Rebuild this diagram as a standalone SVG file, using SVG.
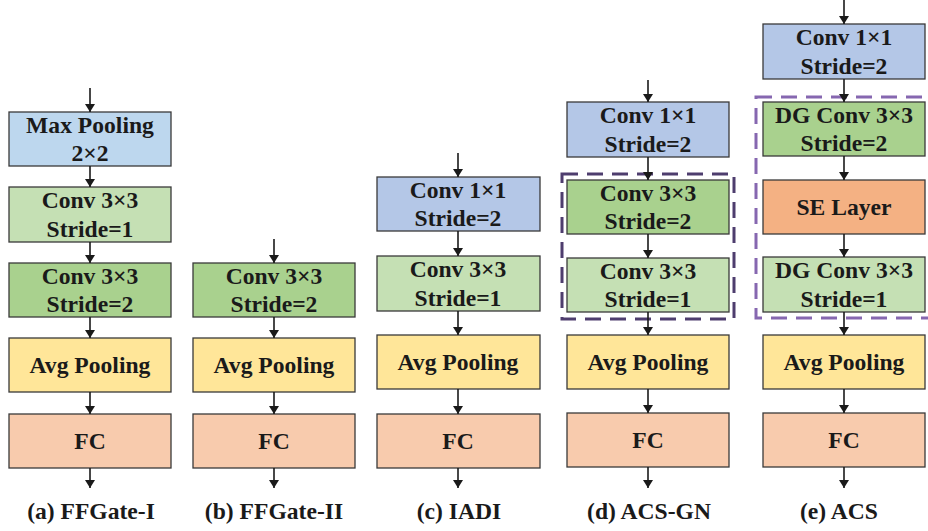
<svg xmlns="http://www.w3.org/2000/svg" width="928" height="531" viewBox="0 0 928 531">
  <defs>
    <!-- arrowhead drawn along +x so orient="auto" turns it to follow the line -->
    <marker id="arrow" markerUnits="userSpaceOnUse" markerWidth="8" markerHeight="10" refX="8" refY="5" orient="auto" viewBox="0 0 8 10">
      <path d="M0,0 L8,5 L0,10 Z" fill="#1a1a1a"/>
    </marker>
    <style>
      .box { stroke: #3a3a3a; stroke-width: 1.3; }
      .lblue { fill: #BDD7EE; }
      .blue { fill: #B4C7E7; }
      .lgreen { fill: #C5E0B4; }
      .dgreen { fill: #A9D18E; }
      .yellow { fill: #FFE699; }
      .fc { fill: #F8CBAD; }
      .se { fill: #F4B183; }
      .link { stroke: #1a1a1a; stroke-width: 1.6; fill: none; marker-end: url(#arrow); }
      .group-d { fill: none; stroke: #4E3D6E; stroke-width: 3; stroke-dasharray: 16 9; }
      .group-e { fill: none; stroke: #8667B0; stroke-width: 3; stroke-dasharray: 16 9; }
    </style>
  </defs>

  <g font-weight="bold" font-size="23.6" fill="#1a1a1a" text-anchor="middle">
  <!-- (a) FFGate-I -->
  <g id="a-maxpool">
    <rect class="box lblue" x="9" y="112" width="162" height="54"/>
    <text font-family="Liberation Serif" x="90" y="133">Max Pooling</text>
    <text font-family="Liberation Serif" x="90" y="161">2×2</text>
  </g>
  <g id="a-conv1">
    <rect class="box lgreen" x="9" y="187" width="162" height="55"/>
    <text font-family="Liberation Serif" x="90" y="208">Conv 3×3</text>
    <text font-family="Liberation Serif" x="90" y="237">Stride=1</text>
  </g>
  <g id="a-conv2">
    <rect class="box dgreen" x="9" y="263" width="162" height="54"/>
    <text font-family="Liberation Serif" x="90" y="284">Conv 3×3</text>
    <text font-family="Liberation Serif" x="90" y="312">Stride=2</text>
  </g>
  <g id="a-avgpool">
    <rect class="box yellow" x="9" y="338" width="162" height="54"/>
    <text font-family="Liberation Serif" x="90" y="373">Avg Pooling</text>
  </g>
  <g id="a-fc">
    <rect class="box fc" x="9" y="414" width="162" height="54"/>
    <text font-family="Liberation Serif" x="90" y="449">FC</text>
  </g>
  <text font-family="Liberation Serif" id="a-label" x="91" y="519">(a) FFGate-I</text>

  <!-- (b) FFGate-II -->
  <g id="b-conv">
    <rect class="box dgreen" x="193" y="263" width="162" height="54"/>
    <text font-family="Liberation Serif" x="274" y="284">Conv 3×3</text>
    <text font-family="Liberation Serif" x="274" y="312">Stride=2</text>
  </g>
  <g id="b-avgpool">
    <rect class="box yellow" x="193" y="338" width="162" height="54"/>
    <text font-family="Liberation Serif" x="274" y="373">Avg Pooling</text>
  </g>
  <g id="b-fc">
    <rect class="box fc" x="193" y="414" width="162" height="54"/>
    <text font-family="Liberation Serif" x="274" y="449">FC</text>
  </g>
  <text font-family="Liberation Serif" id="b-label" x="274" y="519">(b) FFGate-II</text>

  <!-- (c) IADI -->
  <g id="c-conv1x1">
    <rect class="box blue" x="377" y="177" width="163" height="54"/>
    <text font-family="Liberation Serif" x="458" y="198">Conv 1×1</text>
    <text font-family="Liberation Serif" x="458" y="226">Stride=2</text>
  </g>
  <g id="c-conv3x3">
    <rect class="box lgreen" x="377" y="256" width="163" height="55"/>
    <text font-family="Liberation Serif" x="458" y="277">Conv 3×3</text>
    <text font-family="Liberation Serif" x="458" y="306">Stride=1</text>
  </g>
  <g id="c-avgpool">
    <rect class="box yellow" x="377" y="335" width="163" height="54"/>
    <text font-family="Liberation Serif" x="458" y="370">Avg Pooling</text>
  </g>
  <g id="c-fc">
    <rect class="box fc" x="377" y="414" width="163" height="54"/>
    <text font-family="Liberation Serif" x="458" y="449">FC</text>
  </g>
  <text font-family="Liberation Serif" id="c-label" x="459" y="519">(c) IADI</text>

  <!-- (d) ACS-GN -->
  <g id="d-conv1x1">
    <rect class="box blue" x="567" y="102" width="162" height="55"/>
    <text font-family="Liberation Serif" x="648" y="123">Conv 1×1</text>
    <text font-family="Liberation Serif" x="648" y="152">Stride=2</text>
  </g>
  <g id="d-conv-s2">
    <rect class="box dgreen" x="567" y="180" width="162" height="54"/>
    <text font-family="Liberation Serif" x="648" y="201">Conv 3×3</text>
    <text font-family="Liberation Serif" x="648" y="229">Stride=2</text>
  </g>
  <g id="d-conv-s1">
    <rect class="box lgreen" x="567" y="258" width="162" height="54"/>
    <text font-family="Liberation Serif" x="648" y="279">Conv 3×3</text>
    <text font-family="Liberation Serif" x="648" y="307">Stride=1</text>
  </g>
  <rect id="d-group" class="group-d" x="562" y="174" width="172" height="145"/>
  <g id="d-avgpool">
    <rect class="box yellow" x="567" y="335" width="162" height="54"/>
    <text font-family="Liberation Serif" x="648" y="370">Avg Pooling</text>
  </g>
  <g id="d-fc">
    <rect class="box fc" x="567" y="413" width="162" height="54"/>
    <text font-family="Liberation Serif" x="648" y="448">FC</text>
  </g>
  <text font-family="Liberation Serif" id="d-label" x="649" y="519">(d) ACS-GN</text>

  <!-- (e) ACS -->
  <g id="e-conv1x1">
    <rect class="box blue" x="763" y="24" width="162" height="55"/>
    <text font-family="Liberation Serif" x="844" y="45">Conv 1×1</text>
    <text font-family="Liberation Serif" x="844" y="74">Stride=2</text>
  </g>
  <g id="e-dgconv-s2">
    <rect class="box dgreen" x="763" y="102" width="162" height="54"/>
    <text font-family="Liberation Serif" x="844" y="123">DG Conv 3×3</text>
    <text font-family="Liberation Serif" x="844" y="151">Stride=2</text>
  </g>
  <g id="e-se">
    <rect class="box se" x="763" y="180" width="162" height="54"/>
    <text font-family="Liberation Serif" x="844" y="215">SE Layer</text>
  </g>
  <g id="e-dgconv-s1">
    <rect class="box lgreen" x="763" y="257" width="162" height="55"/>
    <text font-family="Liberation Serif" x="844" y="278">DG Conv 3×3</text>
    <text font-family="Liberation Serif" x="844" y="307">Stride=1</text>
  </g>
  <rect id="e-group" class="group-e" x="756" y="97" width="180" height="221"/>
  <g id="e-avgpool">
    <rect class="box yellow" x="763" y="335" width="162" height="54"/>
    <text font-family="Liberation Serif" x="844" y="370">Avg Pooling</text>
  </g>
  <g id="e-fc">
    <rect class="box fc" x="763" y="413" width="162" height="54"/>
    <text font-family="Liberation Serif" x="844" y="448">FC</text>
  </g>
  <text font-family="Liberation Serif" id="e-label" x="839" y="519">(e) ACS</text>
  </g>

  <!-- connectors, drawn on top so the arrowheads meet the box edges -->
  <g id="connectors">
    <!-- (a) -->
    <line class="link" x1="90" y1="88" x2="90" y2="112"/>
    <line class="link" x1="90" y1="166" x2="90" y2="187"/>
    <line class="link" x1="90" y1="242" x2="90" y2="263"/>
    <line class="link" x1="90" y1="317" x2="90" y2="338"/>
    <line class="link" x1="90" y1="392" x2="90" y2="414"/>
    <line class="link" x1="90" y1="468" x2="90" y2="488"/>
    <!-- (b) -->
    <line class="link" x1="274" y1="239" x2="274" y2="263"/>
    <line class="link" x1="274" y1="317" x2="274" y2="338"/>
    <line class="link" x1="274" y1="392" x2="274" y2="414"/>
    <line class="link" x1="274" y1="468" x2="274" y2="488"/>
    <!-- (c) -->
    <line class="link" x1="458" y1="153" x2="458" y2="177"/>
    <line class="link" x1="458" y1="231" x2="458" y2="256"/>
    <line class="link" x1="458" y1="311" x2="458" y2="335"/>
    <line class="link" x1="458" y1="389" x2="458" y2="414"/>
    <line class="link" x1="458" y1="468" x2="458" y2="488"/>
    <!-- (d) -->
    <line class="link" x1="648" y1="80" x2="648" y2="102"/>
    <line class="link" x1="648" y1="157" x2="648" y2="180"/>
    <line class="link" x1="648" y1="234" x2="648" y2="258"/>
    <line class="link" x1="648" y1="312" x2="648" y2="335"/>
    <line class="link" x1="648" y1="389" x2="648" y2="413"/>
    <line class="link" x1="648" y1="467" x2="648" y2="488"/>
    <!-- (e) -->
    <line class="link" x1="844" y1="0" x2="844" y2="24"/>
    <line class="link" x1="844" y1="79" x2="844" y2="102"/>
    <line class="link" x1="844" y1="156" x2="844" y2="180"/>
    <line class="link" x1="844" y1="234" x2="844" y2="257"/>
    <line class="link" x1="844" y1="312" x2="844" y2="335"/>
    <line class="link" x1="844" y1="389" x2="844" y2="413"/>
    <line class="link" x1="844" y1="467" x2="844" y2="488"/>
  </g>
</svg>
